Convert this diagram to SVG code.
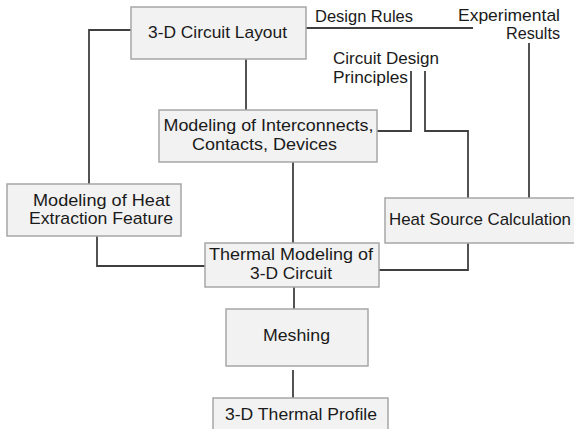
<svg xmlns="http://www.w3.org/2000/svg" width="574" height="429" viewBox="0 0 574 429">
<style>
.box{fill:#f2f2f2;stroke:#a6a6a6;stroke-width:1.5}
.t{font-family:"Liberation Sans",Arial,sans-serif;font-size:17px;fill:#1a1a1a}
.m{text-anchor:middle}
.e{text-anchor:end}
.c{fill:none;stroke:#404040;stroke-width:1.8}
</style>
<rect width="574" height="429" fill="#ffffff"/>
<g id="connectors">
<polyline class="c" points="131,30 89,30 89,184"/>
<line class="c" x1="246" y1="59" x2="246" y2="110"/>
<line class="c" x1="306" y1="28" x2="473" y2="28"/>
<line class="c" x1="529" y1="43" x2="529" y2="198"/>
<polyline class="c" points="377,131 411,131 411,71"/>
<polyline class="c" points="425,71 425,131 468,131 468,198"/>
<line class="c" x1="293" y1="162" x2="293" y2="243"/>
<polyline class="c" points="97,236 97,266 205,266"/>
<polyline class="c" points="468,243 468,270 379,270"/>
<line class="c" x1="294" y1="287" x2="294" y2="309"/>
<line class="c" x1="293" y1="370" x2="293" y2="398"/>
</g>
<g id="layout">
<rect class="box" x="131" y="7" width="175" height="52"/>
<text class="t m" x="217.5" y="38" textLength="139" lengthAdjust="spacingAndGlyphs">3-D Circuit Layout</text>
</g>
<g id="design-rules">
<text class="t m" x="364" y="22" textLength="98" lengthAdjust="spacingAndGlyphs">Design Rules</text>
</g>
<g id="experimental">
<text class="t e" x="560" y="21" textLength="102" lengthAdjust="spacingAndGlyphs">Experimental</text>
<text class="t e" x="560" y="39" textLength="54" lengthAdjust="spacingAndGlyphs">Results</text>
</g>
<g id="principles">
<text class="t" x="333" y="64" textLength="106" lengthAdjust="spacingAndGlyphs">Circuit Design</text>
<text class="t" x="333" y="83" textLength="75" lengthAdjust="spacingAndGlyphs">Principles</text>
</g>
<g id="interconnects">
<rect class="box" x="159" y="110" width="218" height="52"/>
<text class="t m" x="268.5" y="131" textLength="210" lengthAdjust="spacingAndGlyphs">Modeling of Interconnects,</text>
<text class="t m" x="264.5" y="150" textLength="145" lengthAdjust="spacingAndGlyphs">Contacts, Devices</text>
</g>
<g id="heat-extraction">
<rect class="box" x="7" y="184" width="174" height="52"/>
<text class="t m" x="101.5" y="206" textLength="137" lengthAdjust="spacingAndGlyphs">Modeling of Heat</text>
<text class="t m" x="101" y="224" textLength="144" lengthAdjust="spacingAndGlyphs">Extraction Feature</text>
</g>
<g id="heat-source">
<rect class="box" x="385" y="198" width="200" height="45"/>
<text class="t" x="389" y="225" textLength="182" lengthAdjust="spacingAndGlyphs">Heat Source Calculation</text>
</g>
<g id="thermal-modeling">
<rect class="box" x="205" y="243" width="174" height="44"/>
<text class="t m" x="291" y="260" textLength="164" lengthAdjust="spacingAndGlyphs">Thermal Modeling of</text>
<text class="t m" x="291" y="279" textLength="82" lengthAdjust="spacingAndGlyphs">3-D Circuit</text>
</g>
<g id="meshing">
<rect class="box" x="226" y="309" width="142" height="57"/>
<text class="t m" x="296.5" y="341" textLength="67" lengthAdjust="spacingAndGlyphs">Meshing</text>
</g>
<g id="profile">
<rect class="box" x="213" y="398" width="175" height="40"/>
<text class="t m" x="301" y="420" textLength="152" lengthAdjust="spacingAndGlyphs">3-D Thermal Profile</text>
</g>
</svg>
